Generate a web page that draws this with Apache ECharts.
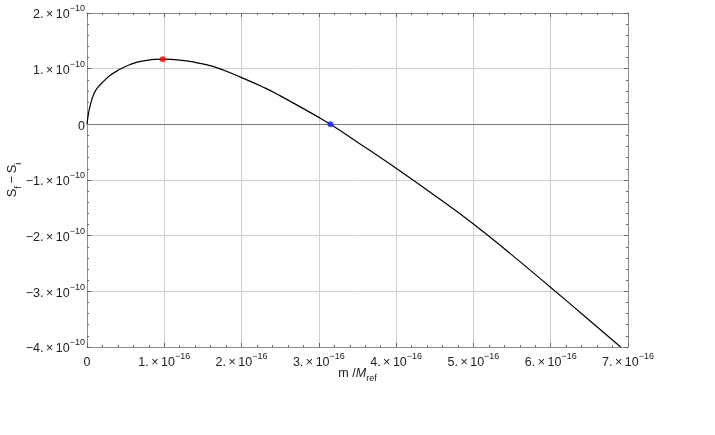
<!DOCTYPE html>
<html>
<head>
<meta charset="utf-8">
<script src="https://cdn.jsdelivr.net/npm/echarts@6/dist/echarts.min.js"></script>
<style>
html,body{margin:0;padding:0;background:#fff;}
#c{width:715px;height:435px;}
</style>
</head>
<body>
<div id="c"></div>
<script>
// m in units of 1e-16 (m / M_ref), S in units of 1e-10 (S_f - S_i)
const mValues = [0, 0.02, 0.045, 0.087, 0.13, 0.22, 0.30, 0.39, 0.56, 0.73, 0.98, 1.2, 1.41, 1.63, 2.0, 2.3, 2.49, 3.0, 3.15, 3.5, 4.0, 4.5, 5.0, 5.5, 6.0, 6.45, 6.905];
const sValues = [0, 0.2, 0.36, 0.54, 0.645, 0.78, 0.88, 0.96, 1.075, 1.14, 1.17, 1.155, 1.11, 1.04, 0.84, 0.655, 0.52, 0.125, 0, -0.32, -0.79, -1.28, -1.79, -2.35, -2.93, -3.46, -4.0];
const maxPoint = [0.98, 1.17];
const zeroPoint = [3.15, 0];
const xExp = '\u221216';   // x tick labels: n. × 10^-16
const yExp = '\u221210';   // y tick labels: n. × 10^-10

const curve = mValues.map((m, i) => [m, sValues[i]]);
const FONT = 'Liberation Sans';
const TXT = '#222';

function sciLabel(v, exp) {
  if (v === 0) return '{b|0}';
  const sign = v < 0 ? '\u2212' : '';
  return '{b|' + sign + Math.abs(v) + '.\u2009\u00d7\u200910}{s|' + exp + '}';
}
const richTick = {
  b: {fontFamily: FONT, fontSize: 12.5, color: TXT, verticalAlign: 'bottom', lineHeight: 17},
  s: {fontFamily: FONT, fontSize: 9, color: TXT, verticalAlign: 'top', lineHeight: 17}
};

const frameLine = {show: true, lineStyle: {color: '#8c8c8c', width: 1}};
const tickIn = {show: true, inside: true, length: 4, lineStyle: {color: '#666'}};
const minorIn = {show: true, splitNumber: 5, length: 2, lineStyle: {color: '#666'}};

const chart = echarts.init(document.getElementById('c'));
chart.setOption({
  animation: false,
  backgroundColor: '#fff',
  grid: {left: 87, right: 87, top: 13, bottom: 88, show: false, containLabel: false, outerBoundsMode: 'none'},
  xAxis: [{
    type: 'value', min: 0, max: 7, interval: 1, position: 'bottom',
    axisLine: Object.assign({onZero: false}, frameLine),
    axisTick: tickIn, minorTick: minorIn,
    splitLine: {show: true, lineStyle: {color: '#cfcfcf', width: 1}},
    axisLabel: {margin: 5, formatter: v => sciLabel(v, xExp), rich: richTick},
    name: '{n|m /}{it|M}{sub|ref}',
    nameLocation: 'middle', nameGap: 20, nameMoveOverlap: false,
    nameTextStyle: {rich: {
      n: {fontFamily: FONT, fontSize: 12.5, color: TXT, verticalAlign: 'top', lineHeight: 16},
      it: {fontFamily: FONT, fontSize: 12.5, fontStyle: 'italic', color: TXT, verticalAlign: 'top', lineHeight: 16},
      sub: {fontFamily: FONT, fontSize: 9, color: TXT, verticalAlign: 'bottom', lineHeight: 16}
    }}
  }, {
    type: 'value', min: 0, max: 7, interval: 1, position: 'top',
    axisLine: Object.assign({onZero: false}, frameLine),
    axisTick: tickIn, minorTick: minorIn,
    splitLine: {show: false}, axisLabel: {show: false}
  }],
  yAxis: [{
    type: 'value', min: -4, max: 2, interval: 1, position: 'left',
    axisLine: Object.assign({onZero: false}, frameLine),
    axisTick: tickIn, minorTick: minorIn,
    splitLine: {show: true, lineStyle: {color: '#cfcfcf', width: 1}},
    axisLabel: {margin: 2, formatter: v => sciLabel(v, yExp), rich: richTick},
    name: '{it|S}{sub|f}{n|\u2009\u2212\u2009}{it|S}{sub|i}',
    nameLocation: 'middle', nameGap: 64, nameRotate: 90, nameMoveOverlap: false,
    nameTextStyle: {rich: {
      n: {fontFamily: FONT, fontSize: 13, color: TXT, verticalAlign: 'top', lineHeight: 17},
      it: {fontFamily: FONT, fontSize: 13, color: TXT, verticalAlign: 'top', lineHeight: 17},
      sub: {fontFamily: FONT, fontSize: 9, color: TXT, verticalAlign: 'bottom', lineHeight: 17}
    }}
  }, {
    type: 'value', min: -4, max: 2, interval: 1, position: 'right',
    axisLine: Object.assign({onZero: false}, frameLine),
    axisTick: tickIn, minorTick: minorIn,
    splitLine: {show: false}, axisLabel: {show: false}
  }],
  series: [{
    type: 'line', data: curve, showSymbol: false, smooth: 0.5,
    lineStyle: {color: '#000', width: 1.2},
    markLine: {
      silent: true, symbol: 'none', label: {show: false},
      lineStyle: {color: '#7a7a7a', type: 'solid', width: 1.2},
      data: [{yAxis: 0}]
    },
    z: 3
  }, {
    type: 'scatter', data: [maxPoint], symbolSize: 6,
    itemStyle: {color: '#ff0000'}, z: 5
  }, {
    type: 'scatter', data: [zeroPoint], symbolSize: 6,
    itemStyle: {color: '#1a1aff'}, z: 5
  }]
});
</script>
</body>
</html>
